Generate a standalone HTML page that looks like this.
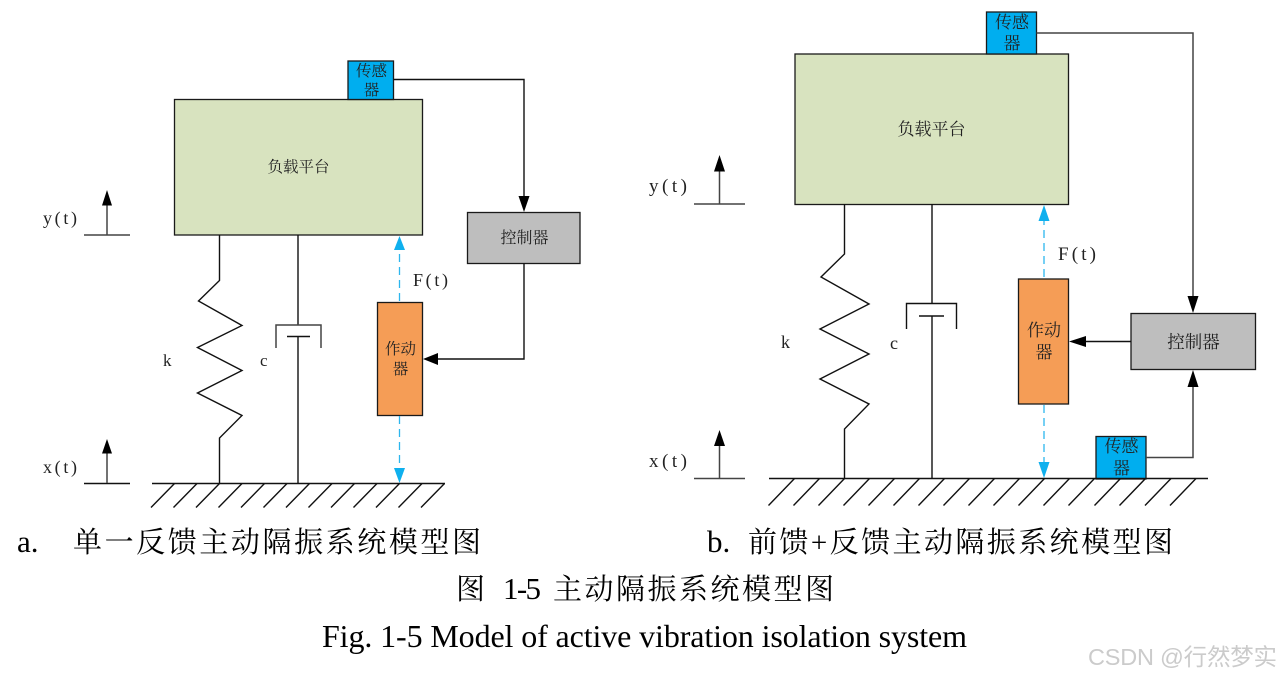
<!DOCTYPE html>
<html>
<head>
<meta charset="utf-8">
<style>
html,body{margin:0;padding:0;background:#fff;width:1280px;height:678px;overflow:hidden}
svg{display:block}
.l{fill:none;stroke:#111;stroke-width:1.4}
.g{fill:none;stroke:#444;stroke-width:1.5}
.d{fill:none;stroke:#2db6ee;stroke-width:1.3;stroke-dasharray:8 5}
.b{stroke:#1a1a1a;stroke-width:1.3}
.t{font-family:"Liberation Serif","Noto Serif CJK SC",serif;fill:#222}
.c{font-family:"Liberation Serif","Noto Serif CJK SC",serif;fill:#000}
</style>
</head>
<body>
<svg width="1280" height="678" viewBox="0 0 1280 678" xmlns="http://www.w3.org/2000/svg">
<!-- LEFT diagram -->
<rect class="b" x="174.5" y="99.5" width="248" height="135.5" fill="#d8e3bf"/>
<rect class="b" x="348" y="61" width="45.5" height="38.5" fill="#00aeef"/>
<text class="t" x="371.5" y="76" font-size="15.5" text-anchor="middle">传感</text>
<text class="t" x="371.5" y="95" font-size="15.5" text-anchor="middle">器</text>
<text class="t" x="298.5" y="172" font-size="15.5" text-anchor="middle">负载平台</text>
<polyline class="l" points="393.5,79.5 524,79.5 524,197"/>
<polygon points="518.5,196 529.5,196 524,212"/>
<rect class="b" x="467.5" y="212.5" width="112.5" height="51" fill="#bebebe"/>
<text class="t" x="524.5" y="243" font-size="16" text-anchor="middle">控制器</text>
<polyline class="l" points="524,263.5 524,359 437,359"/>
<polygon points="438,353 438,365 423,359"/>
<rect class="b" x="377.5" y="302.5" width="45" height="113" fill="#f59d56"/>
<text class="t" x="400.5" y="354" font-size="15.5" text-anchor="middle">作动</text>
<text class="t" x="400.5" y="374" font-size="15.5" text-anchor="middle">器</text>
<line class="d" x1="399.5" y1="301" x2="399.5" y2="250"/>
<polygon fill="#0fb0ee" points="394,250 405,250 399.5,236"/>
<line class="d" x1="399.5" y1="416" x2="399.5" y2="469"/>
<polygon fill="#0fb0ee" points="394,468 405,468 399.5,483"/>
<text class="t" x="413" y="286" font-size="18" textLength="35" lengthAdjust="spacing">F(t)</text>
<polyline class="l" points="219.5,235 219.5,280.5 198.5,301 242,325.5 197.5,347.5 242,370.5 197.5,393 242,415.5 219.5,438 219.5,483"/>
<polyline class="l" points="298,235 298,325"/>
<polyline class="g" points="276,348 276,325 321,325 321,348"/>
<line class="l" x1="287" y1="336.5" x2="310" y2="336.5"/>
<line class="l" x1="298" y1="336.5" x2="298" y2="483"/>
<text class="t" x="163" y="366" font-size="17">k</text>
<text class="t" x="260" y="366" font-size="17">c</text>
<line class="g" x1="84" y1="235" x2="130" y2="235"/>
<line class="g" x1="107" y1="204" x2="107" y2="235"/>
<polygon points="102,205.5 112,205.5 107,190"/>
<text class="t" x="43" y="224" font-size="18" textLength="34" lengthAdjust="spacing">y(t)</text>
<line class="l" x1="84" y1="483.5" x2="130" y2="483.5"/>
<line class="g" x1="107" y1="452" x2="107" y2="483"/>
<polygon points="102,453.5 112,453.5 107,439"/>
<text class="t" x="43" y="473" font-size="18" textLength="34" lengthAdjust="spacing">x(t)</text>
<line class="l" x1="152" y1="483.5" x2="445" y2="483.5"/>
<path class="l" stroke-width="1.2" d="M174.5 483.5l-23.5 24M197 483.5l-23.5 24M219.5 483.5l-23.5 24M242 483.5l-23.5 24M264.5 483.5l-23.5 24M287 483.5l-23.5 24M309.5 483.5l-23.5 24M332 483.5l-23.5 24M354.5 483.5l-23.5 24M377 483.5l-23.5 24M399.5 483.5l-23.5 24M422 483.5l-23.5 24M444.5 483.5l-23.5 24"/>

<!-- RIGHT diagram -->
<rect class="b" x="795" y="54" width="273.5" height="150.5" fill="#d8e3bf"/>
<rect class="b" x="986.5" y="12" width="50" height="42" fill="#00aeef"/>
<text class="t" x="1012" y="28" font-size="17" text-anchor="middle">传感</text>
<text class="t" x="1012" y="49" font-size="17" text-anchor="middle">器</text>
<text class="t" x="931.5" y="135" font-size="17" text-anchor="middle">负载平台</text>
<polyline class="g" points="1036.5,33 1193,33 1193,297"/>
<polygon points="1187.5,296 1198.5,296 1193,313"/>
<rect class="b" x="1131" y="313.5" width="124.5" height="56" fill="#bebebe"/>
<text class="t" x="1193.5" y="348" font-size="17.5" text-anchor="middle">控制器</text>
<line class="l" x1="1131" y1="341.5" x2="1085" y2="341.5"/>
<polygon points="1086,336 1086,347 1069,341.5"/>
<rect class="b" x="1018.5" y="279" width="50" height="125" fill="#f59d56"/>
<text class="t" x="1044" y="336" font-size="17" text-anchor="middle">作动</text>
<text class="t" x="1044" y="358" font-size="17" text-anchor="middle">器</text>
<line class="d" x1="1044" y1="277" x2="1044" y2="220"/>
<polygon fill="#0fb0ee" points="1038.5,221 1049.5,221 1044,205"/>
<line class="d" x1="1044" y1="405" x2="1044" y2="463"/>
<polygon fill="#0fb0ee" points="1038.5,462 1049.5,462 1044,478"/>
<text class="t" x="1058" y="260" font-size="19" textLength="38" lengthAdjust="spacing">F(t)</text>
<rect class="b" x="1096" y="436.5" width="50" height="42.5" fill="#00aeef"/>
<text class="t" x="1121.5" y="452" font-size="17" text-anchor="middle">传感</text>
<text class="t" x="1121.5" y="474" font-size="17" text-anchor="middle">器</text>
<polyline class="g" points="1146,457.5 1193,457.5 1193,386"/>
<polygon points="1187.5,387 1198.5,387 1193,370"/>
<polyline class="l" points="844.5,204 844.5,254 821,277 869,304 820,329 869,354 820,379 869,404 844.5,429 844.5,479"/>
<line class="l" x1="932" y1="204" x2="932" y2="303.5"/>
<polyline class="l" points="906.5,329 906.5,303.5 956.5,303.5 956.5,329"/>
<line class="l" x1="919" y1="316" x2="944" y2="316"/>
<line class="l" x1="932" y1="316" x2="932" y2="479"/>
<text class="t" x="781" y="348" font-size="18">k</text>
<text class="t" x="890" y="349" font-size="18">c</text>
<line class="g" x1="694" y1="204" x2="745" y2="204"/>
<line class="g" x1="719.5" y1="170" x2="719.5" y2="204"/>
<polygon points="714,171.5 725,171.5 719.5,155"/>
<text class="t" x="649" y="192" font-size="19" textLength="38" lengthAdjust="spacing">y(t)</text>
<line class="g" x1="694" y1="478.5" x2="745" y2="478.5"/>
<line class="g" x1="719.5" y1="445" x2="719.5" y2="479"/>
<polygon points="714,446 725,446 719.5,430"/>
<text class="t" x="649" y="467" font-size="19" textLength="38" lengthAdjust="spacing">x(t)</text>
<line class="l" x1="769" y1="478.5" x2="1208" y2="478.5"/>
<path class="l" d="M794.5 478.5l-26 27M819.5 478.5l-26 27M844.5 478.5l-26 27M869.5 478.5l-26 27M894.5 478.5l-26 27M919.5 478.5l-26 27M944.5 478.5l-26 27M969.5 478.5l-26 27M994.5 478.5l-26 27M1019.5 478.5l-26 27M1044.5 478.5l-26 27M1069.5 478.5l-26 27M1094.5 478.5l-26 27M1120.5 478.5l-26 27M1145.5 478.5l-26 27M1171 478.5l-26 27M1196 478.5l-26 27"/>

<!-- Captions -->
<text class="c" x="17" y="552" font-size="31">a.</text>
<text class="c" x="73" y="552" font-size="29" textLength="408" lengthAdjust="spacing">单一反馈主动隔振系统模型图</text>
<text class="c" x="707" y="552" font-size="31">b.</text>
<text class="c" x="748" y="552" font-size="29" textLength="425" lengthAdjust="spacing">前馈+反馈主动隔振系统模型图</text>
<text class="c" x="456" y="599" font-size="29">图</text>
<text class="c" x="503" y="599" font-size="31" textLength="38" lengthAdjust="spacing">1-5</text>
<text class="c" x="553" y="599" font-size="29" textLength="281" lengthAdjust="spacing">主动隔振系统模型图</text>
<text class="c" x="322" y="647" font-size="32" textLength="645" lengthAdjust="spacing">Fig. 1-5 Model of active vibration isolation system</text>
<!-- Watermark -->
<text x="1088" y="665" font-size="23.5" fill="#cbcbcb" font-family="'Liberation Sans','Noto Sans CJK SC',sans-serif" textLength="189" lengthAdjust="spacing">CSDN @行然梦实</text>
</svg>
</body>
</html>
